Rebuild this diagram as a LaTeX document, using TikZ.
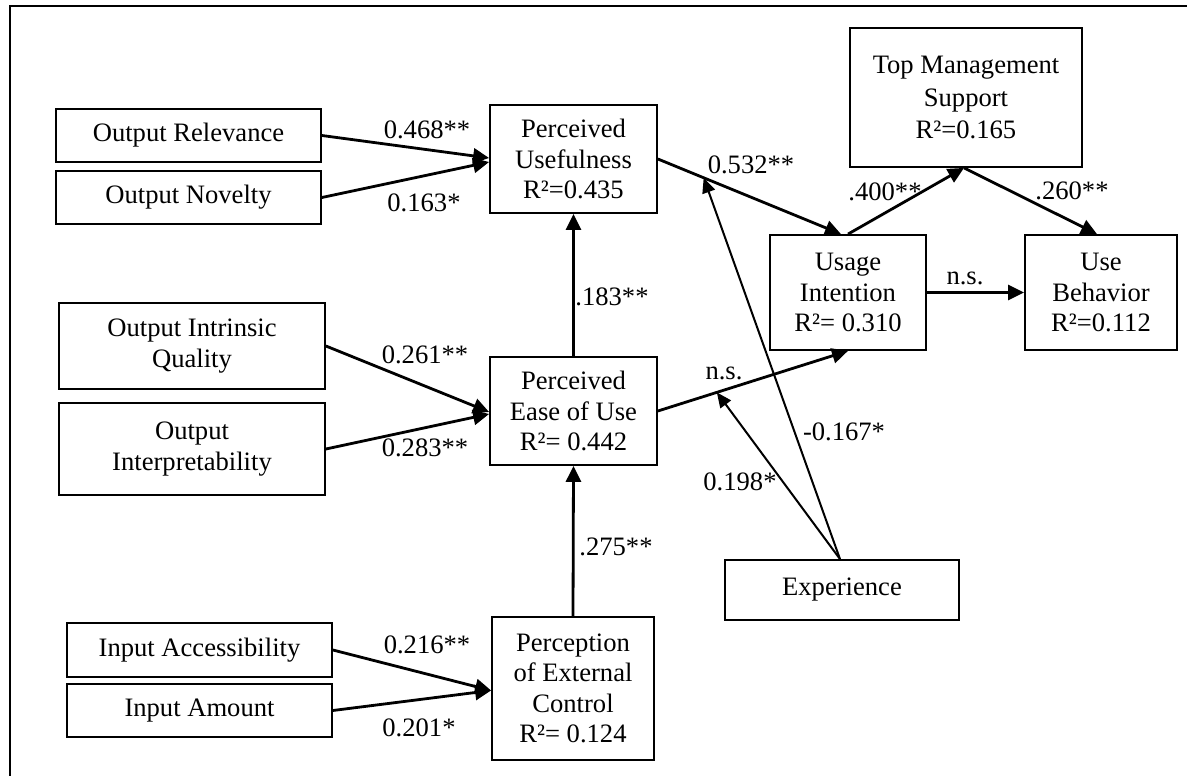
\documentclass[tikz,border=0pt]{standalone}
\usepackage{fontspec}
\setmainfont{Liberation Serif}
\usetikzlibrary{arrows.meta,calc}
\begin{document}
\begin{tikzpicture}[x=1pt,y=-1pt,
  box/.style={draw,line width=1.8pt,inner sep=0pt,align=center,font=\fontsize{26.6}{30.5}\selectfont},
  lbl/.style={inner sep=0pt,font=\fontsize{26.6}{30.5}\selectfont},
  arr/.style={line width=2.8pt,-{Triangle[length=16pt,width=15pt]}},
  thinarr/.style={line width=2pt,-{Triangle[length=15pt,width=13pt]}}]
\useasboundingbox (0,0) rectangle (1187,776);
\draw[line width=2pt] (1187,6) -- (10,6) -- (10,776);

% boxes
\node[box,minimum width=265pt,minimum height=53pt] (rel) at (188.5,135.5) {Output Relevance};
\node[box,minimum width=265pt,minimum height=53pt] (nov) at (188.5,197.5) {Output Novelty};
\node[box,minimum width=167pt,minimum height=108pt] (pu) at (573.5,159) {Perceived\\Usefulness\\R²=0.435};
\node[box,minimum width=232pt,minimum height=139pt,font=\fontsize{26.6}{32.5}\selectfont] (tms) at (966,97.5) {Top Management\\Support\\R²=0.165};
\node[box,minimum width=156pt,minimum height=115pt] (ui) at (848,292.5) {Usage\\Intention\\R²= 0.310};
\node[box,minimum width=152pt,minimum height=115pt] (ub) at (1101,292.5) {Use\\Behavior\\R²=0.112};
\node[box,minimum width=266pt,minimum height=86pt] (oiq) at (192,346) {Output Intrinsic\\Quality};
\node[box,minimum width=266pt,minimum height=92pt] (oint) at (192,449) {Output\\Interpretability};
\node[box,minimum width=167pt,minimum height=108pt] (peou) at (573.5,411) {Perceived\\Ease of Use\\R²= 0.442};
\node[box,minimum width=234pt,minimum height=60pt] (exp) at (842,590) {Experience};
\node[box,minimum width=265pt,minimum height=54pt] (iacc) at (199.5,650) {Input Accessibility};
\node[box,minimum width=265pt,minimum height=53pt] (iamt) at (199.5,710.5) {Input Amount};
\node[box,minimum width=162pt,minimum height=143pt] (pec) at (573,688.5) {Perception\\of External\\Control\\R²= 0.124};

% connectors
\draw[arr] (rel.east) -- ([yshift=1pt]pu.west);
\draw[arr] (nov.east) -- ([yshift=-3pt]pu.west);
\draw[arr] (pu.east) -- ([xshift=-7pt]ui.north);
\draw[arr] (ui.north) -- ([xshift=-2pt]tms.south);
\draw[arr] ([xshift=-2pt]tms.south) -- ([xshift=-4pt]ub.north);
\draw[arr] (ui.east) -- (ub.west);
\draw[arr] (peou.north) -- (pu.south);
\draw[arr] (oiq.east) -- ([yshift=-1pt]peou.west);
\draw[arr] (oint.east) -- ([yshift=-3pt]peou.west);
\draw[arr] (peou.east) -- (ui.south);
\draw[arr] (pec.north) -- (peou.south);
\draw[arr] (iacc.east) -- ([yshift=-2pt]pec.west);
\draw[arr] (iamt.east) -- ([yshift=-2pt]pec.west);

\coordinate (m1) at ($(pu.east)!0.25!([xshift=-7pt]ui.north)$);
\coordinate (m2) at ($(peou.east)!0.31!(ui.south)$);
\coordinate (es) at ([xshift=-2pt]exp.north);
\draw[thinarr] (es) -- (m1);
\draw[thinarr] (es) -- (m2);

% labels
\node[lbl] (l1) at (427,130) {0.468**};
\node[lbl] (l2) at (424,203) {0.163*};
\node[lbl] (l3) at (751,165) {0.532**};
\node[lbl] (l4) at (885,192) {.400**};
\node[lbl] (l5) at (1072,191) {.260**};
\node[lbl] (l6) at (965,278) {n.s.};
\node[lbl] (l7) at (612,297) {.183**};
\node[lbl] (l8) at (425,355) {0.261**};
\node[lbl] (l9) at (425,448) {0.283**};
\node[lbl] (l10) at (724,373) {n.s.};
\node[lbl] (l11) at (844,432) {-0.167*};
\node[lbl] (l12) at (740,482) {0.198*};
\node[lbl] (l13) at (616,547) {.275**};
\node[lbl] (l14) at (427,645) {0.216**};
\node[lbl] (l15) at (419,728) {0.201*};
\end{tikzpicture}
\end{document}
